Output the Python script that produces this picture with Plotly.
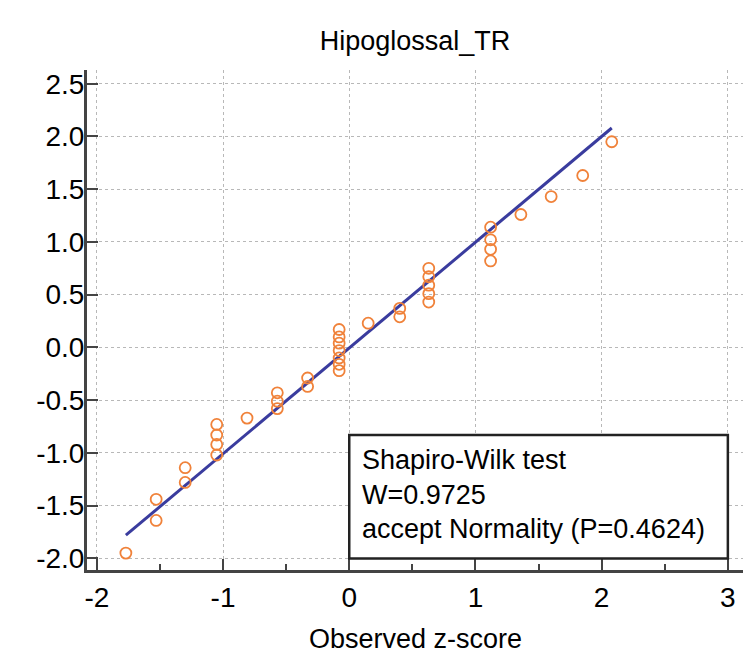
import plotly.graph_objects as go

# Observed z-scores (x) and expected normal quantiles (y)
obs_z = [-1.77, -1.53, -1.53, -1.30, -1.30,
         -1.05, -1.05, -1.05, -1.05, -0.81,
         -0.57, -0.57, -0.57, -0.33, -0.33,
         -0.08, -0.08, -0.08, -0.08, -0.08, -0.08, -0.08,
         0.15, 0.40, 0.40,
         0.63, 0.63, 0.63, 0.63, 0.63,
         1.12, 1.12, 1.12, 1.12,
         1.36, 1.60, 1.85, 2.08]
exp_z = [-1.95, -1.64, -1.44, -1.28, -1.14,
         -1.02, -0.92, -0.83, -0.73, -0.67,
         -0.58, -0.51, -0.43, -0.37, -0.29,
         -0.22, -0.16, -0.10, -0.03, 0.04, 0.10, 0.17,
         0.23, 0.29, 0.37,
         0.43, 0.51, 0.59, 0.67, 0.75,
         0.82, 0.93, 1.02, 1.14,
         1.26, 1.43, 1.63, 1.95]

fit_x = [-1.77, 2.08]
fit_y = [-1.78, 2.08]

x_ticks = [-2, -1, 0, 1, 2, 3]
y_ticks = [-2.0, -1.5, -1.0, -0.5, 0.0, 0.5, 1.0, 1.5, 2.0, 2.5]

title_text = "Hipoglossal_TR"
x_title = "Observed z-score"
test_lines = ["Shapiro-Wilk test", "W=0.9725", "accept Normality (P=0.4624)"]

FONT = "Liberation Sans, Arial, Helvetica, sans-serif"
AX = "#444444"
TXT = "#000000"

fig = go.Figure()
fig.add_trace(go.Scatter(x=fit_x, y=fit_y, mode="lines",
                         line=dict(color="#3A3C9E", width=3),
                         showlegend=False, hoverinfo="skip"))
fig.add_trace(go.Scatter(x=obs_z, y=exp_z, mode="markers",
                         marker=dict(symbol="circle-open", size=11,
                                     color="#F0823A", line=dict(width=1.8)),
                         showlegend=False))

# Test result box
fig.add_shape(type="rect", xref="x", yref="y", x0=0.0, x1=3.0, y0=-2.0, y1=-0.83,
              line=dict(color="#222222", width=2.5), fillcolor="white", layer="above")
line_y = [-1.07, -1.40, -1.72]
for txt, yy in zip(test_lines, line_y):
    fig.add_annotation(x=0.085, y=yy, xref="x", yref="y", text=txt, showarrow=False,
                       xanchor="left", yanchor="middle",
                       font=dict(family=FONT, size=27, color=TXT))

# x-axis title
fig.add_annotation(x=0.5, y=-0.138, xref="paper", yref="paper", text=x_title,
                   showarrow=False, xanchor="center", yanchor="middle",
                   font=dict(family=FONT, size=27, color=TXT))

fig.update_layout(
    width=756, height=667,
    margin=dict(l=79, r=21, t=62, b=105),
    paper_bgcolor="white", plot_bgcolor="white",
    font=dict(family=FONT, size=27, color=TXT),
    title=dict(text=title_text, x=0.5, xref="paper", xanchor="center",
               y=1 - 33 / 667, yref="container", yanchor="middle",
               font=dict(family=FONT, size=27, color=TXT)),
)
fig.update_xaxes(
    range=[-2.078, 3.12], tickmode="array", tickvals=x_ticks,
    ticktext=[str(v) for v in x_ticks],
    ticks="inside", ticklen=11, tickwidth=2, tickcolor=AX,
    showline=True, linewidth=3, linecolor=AX, mirror=False,
    showgrid=True, gridcolor="#b8b8b8", gridwidth=1, griddash="dot",
    zeroline=False,
    minor=dict(dtick=0.5, tick0=-2, ticks="inside", ticklen=6, tickwidth=2,
               tickcolor=AX, showgrid=False),
    tickfont=dict(family=FONT, size=28, color=TXT),
)
fig.update_yaxes(
    range=[-2.11, 2.63], tickmode="array", tickvals=y_ticks,
    ticktext=[f"{v:.1f}" for v in y_ticks],
    ticks="inside", ticklen=11, tickwidth=2, tickcolor=AX,
    showline=True, linewidth=3, linecolor=AX, mirror=False,
    showgrid=True, gridcolor="#b8b8b8", gridwidth=1, griddash="dot",
    zeroline=False, ticklabelstandoff=-6,
    tickfont=dict(family=FONT, size=28, color=TXT),
)

fig.write_html("out.html")
